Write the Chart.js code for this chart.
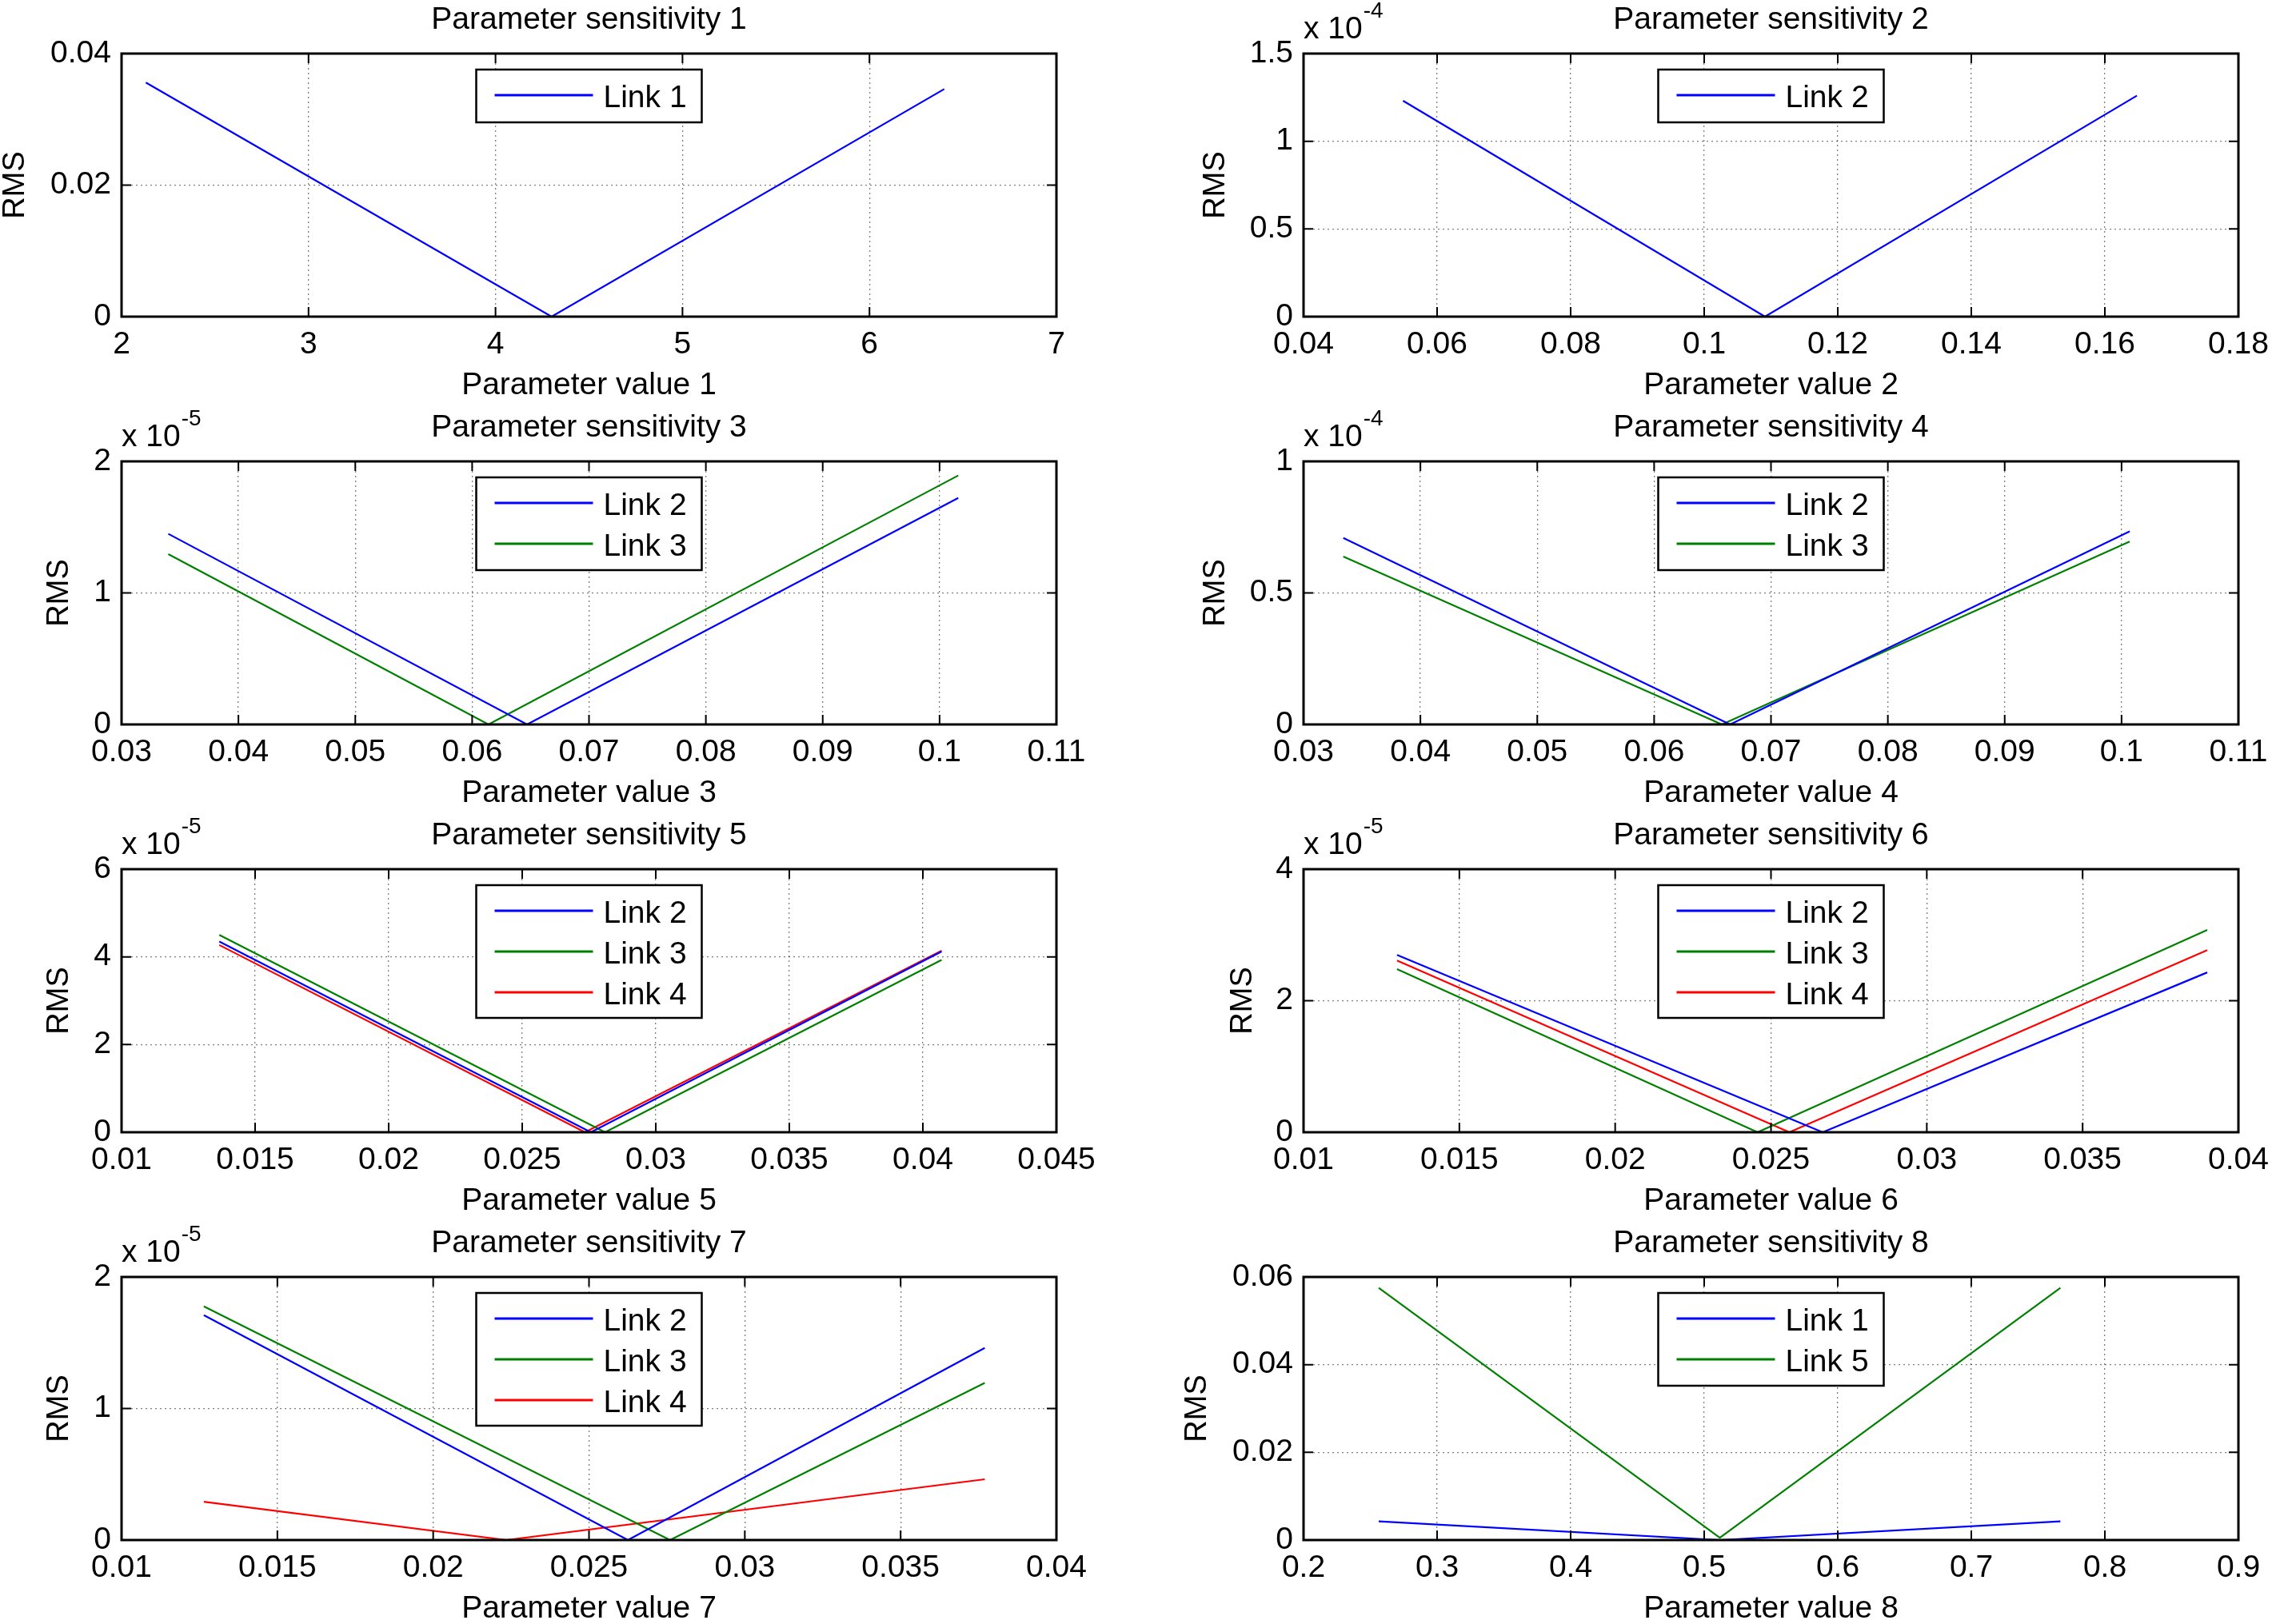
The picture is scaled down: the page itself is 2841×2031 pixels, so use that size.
<!DOCTYPE html>
<html>
<head>
<meta charset="utf-8">
<title>Parameter sensitivity</title>
<script src="https://cdn.jsdelivr.net/npm/chart.js@4.4.1/dist/chart.umd.min.js"></script>
<style>
  html, body { margin: 0; padding: 0; background: #fff; }
  body { width: 2841px; height: 2031px; position: relative; overflow: hidden; }
  canvas { position: absolute; }
</style>
</head>
<body>
<script>
// --- tick values per panel ---
const xTicks1 = [2, 3, 4, 5, 6, 7];
const yTicks1 = [0, 0.02, 0.04];
const xTicks2 = [0.04, 0.06, 0.08, 0.1, 0.12, 0.14, 0.16, 0.18];
const yTicks2 = [0, 0.5e-4, 1e-4, 1.5e-4];
const xTicks3 = [0.03, 0.04, 0.05, 0.06, 0.07, 0.08, 0.09, 0.1, 0.11];
const yTicks3 = [0, 1e-5, 2e-5];
const xTicks4 = [0.03, 0.04, 0.05, 0.06, 0.07, 0.08, 0.09, 0.1, 0.11];
const yTicks4 = [0, 0.5e-4, 1e-4];
const xTicks5 = [0.01, 0.015, 0.02, 0.025, 0.03, 0.035, 0.04, 0.045];
const yTicks5 = [0, 2e-5, 4e-5, 6e-5];
const xTicks6 = [0.01, 0.015, 0.02, 0.025, 0.03, 0.035, 0.04];
const yTicks6 = [0, 2e-5, 4e-5];
const xTicks7 = [0.01, 0.015, 0.02, 0.025, 0.03, 0.035, 0.04];
const yTicks7 = [0, 1e-5, 2e-5];
const xTicks8 = [0.2, 0.3, 0.4, 0.5, 0.6, 0.7, 0.8, 0.9];
const yTicks8 = [0, 0.02, 0.04, 0.06];

// --- series (parameter value, RMS) ---
const p1Link1X = [2.13, 4.30, 6.40];
const p1Link1Y = [0.0356, 0, 0.0346];

const p2Link2X = [0.0549, 0.1091, 0.1648];
const p2Link2Y = [1.231e-4, 0, 1.26e-4];

const p3Link2X = [0.0340, 0.0647, 0.1016];
const p3Link2Y = [1.449e-5, 0, 1.722e-5];
const p3Link3X = [0.0340, 0.0614, 0.1016];
const p3Link3Y = [1.295e-5, 0, 1.893e-5];

const p4Link2X = [0.0334, 0.0665, 0.1007];
const p4Link2Y = [0.709e-4, 0, 0.734e-4];
const p4Link3X = [0.0334, 0.0658, 0.1007];
const p4Link3Y = [0.638e-4, 0, 0.695e-4];

const p5Link2X = [0.01366, 0.02757, 0.0407];
const p5Link2Y = [4.35e-5, 0, 4.12e-5];
const p5Link3X = [0.01366, 0.0281, 0.0407];
const p5Link3Y = [4.50e-5, 0, 3.93e-5];
const p5Link4X = [0.01366, 0.02735, 0.0407];
const p5Link4Y = [4.27e-5, 0, 4.14e-5];

const p6Link2X = [0.0130, 0.02666, 0.0390];
const p6Link2Y = [2.695e-5, 0, 2.43e-5];
const p6Link3X = [0.0130, 0.02457, 0.0390];
const p6Link3Y = [2.48e-5, 0, 3.076e-5];
const p6Link4X = [0.0130, 0.02559, 0.0390];
const p6Link4Y = [2.61e-5, 0, 2.77e-5];

const p7Link2X = [0.01264, 0.02625, 0.0377];
const p7Link2Y = [1.71e-5, 0, 1.46e-5];
const p7Link3X = [0.01264, 0.0276, 0.0377];
const p7Link3Y = [1.777e-5, 0, 1.194e-5];
const p7Link4X = [0.01264, 0.02235, 0.0377];
const p7Link4Y = [0.291e-5, 0, 0.462e-5];

const p8Link1X = [0.2563, 0.5117, 0.7667];
const p8Link1Y = [0.00425, 0, 0.00425];
const p8Link5X = [0.2563, 0.5117, 0.7667];
const p8Link5Y = [0.0575, 0.0005, 0.0575];

const BLUE = '#0000ff', GREEN = '#008000', RED = '#ff0000';
const FONT = '"Liberation Sans", Arial, Helvetica, sans-serif';

const panels = [
    { n: 1, xTicks: xTicks1, yTicks: yTicks1, exp: 0, series: [['Link 1', BLUE, p1Link1X, p1Link1Y]] },
    { n: 2, xTicks: xTicks2, yTicks: yTicks2, exp: -4, series: [['Link 2', BLUE, p2Link2X, p2Link2Y]] },
    { n: 3, xTicks: xTicks3, yTicks: yTicks3, exp: -5, series: [['Link 2', BLUE, p3Link2X, p3Link2Y], ['Link 3', GREEN, p3Link3X, p3Link3Y]] },
    { n: 4, xTicks: xTicks4, yTicks: yTicks4, exp: -4, series: [['Link 2', BLUE, p4Link2X, p4Link2Y], ['Link 3', GREEN, p4Link3X, p4Link3Y]] },
    { n: 5, xTicks: xTicks5, yTicks: yTicks5, exp: -5, series: [['Link 2', BLUE, p5Link2X, p5Link2Y], ['Link 3', GREEN, p5Link3X, p5Link3Y], ['Link 4', RED, p5Link4X, p5Link4Y]] },
    { n: 6, xTicks: xTicks6, yTicks: yTicks6, exp: -5, series: [['Link 2', BLUE, p6Link2X, p6Link2Y], ['Link 3', GREEN, p6Link3X, p6Link3Y], ['Link 4', RED, p6Link4X, p6Link4Y]] },
    { n: 7, xTicks: xTicks7, yTicks: yTicks7, exp: -5, series: [['Link 2', BLUE, p7Link2X, p7Link2Y], ['Link 3', GREEN, p7Link3X, p7Link3Y], ['Link 4', RED, p7Link4X, p7Link4Y]] },
    { n: 8, xTicks: xTicks8, yTicks: yTicks8, exp: 0, series: [['Link 1', BLUE, p8Link1X, p8Link1Y], ['Link 5', GREEN, p8Link5X, p8Link5Y]] }
];

// page layout of the axes boxes
const colLeft = [152, 1630];
const rowTop = [67, 577, 1087, 1597];
const plotW = 1169, plotH = 329;
const rmsCenter = [20, 1521, 75, 1521, 75, 1555, 75, 1498];
const TOP_PAD = 70, RIGHT_PAD = 70, BOTTOM_H = 110;

const fmt = v => String(parseFloat(v.toPrecision(6)));

// MATLAB-like decorations: frame, inward ticks, title, exponent, boxed legend
const matlabAxes = {
    id: 'matlabAxes',
    afterDatasetsDraw(chart, args, opts) {
        const { ctx, chartArea: a } = chart;
        const x = chart.scales.x, y = chart.scales.y;
        ctx.save();

        ctx.strokeStyle = '#000';
        ctx.lineWidth = 2;
        ctx.beginPath();
        x.ticks.forEach(t => {
            const px = x.getPixelForValue(t.value);
            ctx.moveTo(px, a.bottom); ctx.lineTo(px, a.bottom - 12);
            ctx.moveTo(px, a.top); ctx.lineTo(px, a.top + 12);
        });
        y.ticks.forEach(t => {
            const py = y.getPixelForValue(t.value);
            ctx.moveTo(a.left, py); ctx.lineTo(a.left + 12, py);
            ctx.moveTo(a.right, py); ctx.lineTo(a.right - 12, py);
        });
        ctx.stroke();

        ctx.lineWidth = 3;
        ctx.strokeRect(a.left, a.top, a.right - a.left, a.bottom - a.top);

        ctx.fillStyle = '#000';
        ctx.font = '39px ' + FONT;
        ctx.textAlign = 'center';
        ctx.textBaseline = 'alphabetic';
        ctx.fillText(opts.title, (a.left + a.right) / 2, a.top - 31);

        if (opts.exp) {
            ctx.textAlign = 'left';
            ctx.fillText('x 10', a.left, a.top - 19);
            const w = ctx.measureText('x 10').width;
            ctx.font = '28px ' + FONT;
            ctx.fillText(String(opts.exp), a.left + w + 1, a.top - 45);
        }

        // legend
        const sets = chart.data.datasets;
        const bw = 282, bh = 16 + sets.length * 50;
        const bx = (a.left + a.right) / 2 - bw / 2, by = a.top + 20;
        ctx.fillStyle = '#fff';
        ctx.fillRect(bx, by, bw, bh);
        ctx.lineWidth = 2.5;
        ctx.strokeStyle = '#000';
        ctx.strokeRect(bx, by, bw, bh);
        ctx.font = '39px ' + FONT;
        ctx.textAlign = 'left';
        sets.forEach((ds, i) => {
            const cy = by + 33 + i * 51;
            ctx.strokeStyle = ds.borderColor;
            ctx.lineWidth = 3;
            ctx.beginPath();
            ctx.moveTo(bx + 23, cy - 1);
            ctx.lineTo(bx + 146, cy - 1);
            ctx.stroke();
            ctx.fillStyle = '#000';
            ctx.fillText(ds.label, bx + 159, cy + 14);
        });
        ctx.restore();
    }
};

Chart.defaults.font.family = FONT;
Chart.defaults.color = '#000';

panels.forEach((p, i) => {
    const pl = colLeft[i % 2], pt = rowTop[Math.floor(i / 2)];
    const cx = rmsCenter[i] - 19;
    const cy = pt - TOP_PAD;
    const cw = pl + plotW + RIGHT_PAD - cx;
    const ch = TOP_PAD + plotH + BOTTOM_H;
    const factor = Math.pow(10, p.exp);

    const canvas = document.createElement('canvas');
    canvas.width = cw;
    canvas.height = ch;
    canvas.style.left = cx + 'px';
    canvas.style.top = cy + 'px';
    canvas.style.width = cw + 'px';
    canvas.style.height = ch + 'px';
    document.body.appendChild(canvas);

    new Chart(canvas.getContext('2d'), {
        type: 'scatter',
        data: {
            datasets: p.series.map(([label, color, xs, ys]) => ({
                label: label,
                data: xs.map((v, k) => ({ x: v, y: ys[k] })),
                borderColor: color,
                backgroundColor: color,
                borderWidth: 2.2,
                showLine: true,
                pointRadius: 0,
                tension: 0
            }))
        },
        options: {
            responsive: false,
            animation: false,
            devicePixelRatio: 1,
            events: [],
            layout: { padding: { top: TOP_PAD, right: RIGHT_PAD, left: 0, bottom: 0 } },
            plugins: {
                legend: { display: false },
                title: { display: false },
                tooltip: { enabled: false },
                matlabAxes: { title: 'Parameter sensitivity ' + p.n, exp: p.exp }
            },
            scales: {
                x: {
                    type: 'linear',
                    min: p.xTicks[0],
                    max: p.xTicks[p.xTicks.length - 1],
                    afterBuildTicks: axis => { axis.ticks = p.xTicks.map(v => ({ value: v })); },
                    afterFit: axis => { axis.height = BOTTOM_H; },
                    ticks: {
                        autoSkip: false, maxRotation: 0, minRotation: 0, padding: 12,
                        font: { size: 39 },
                        callback: v => fmt(v)
                    },
                    grid: { color: 'rgba(0,0,0,0.5)', lineWidth: 1.3, drawTicks: false },
                    border: { display: false, dash: [2, 4] },
                    title: { display: true, text: 'Parameter value ' + p.n, font: { size: 39, lineHeight: 1.2 }, padding: 0 }
                },
                y: {
                    type: 'linear',
                    min: p.yTicks[0],
                    max: p.yTicks[p.yTicks.length - 1],
                    afterBuildTicks: axis => { axis.ticks = p.yTicks.map(v => ({ value: v })); },
                    afterFit: axis => { axis.width = pl - cx; },
                    ticks: {
                        autoSkip: false, padding: 13,
                        font: { size: 39 },
                        callback: v => fmt(v / factor)
                    },
                    grid: { color: 'rgba(0,0,0,0.5)', lineWidth: 1.3, drawTicks: false },
                    border: { display: false, dash: [2, 4] },
                    title: { display: true, text: 'RMS', font: { size: 38, lineHeight: 1 }, padding: 0 }
                }
            }
        },
        plugins: [matlabAxes]
    });
});
</script>
</body>
</html>
